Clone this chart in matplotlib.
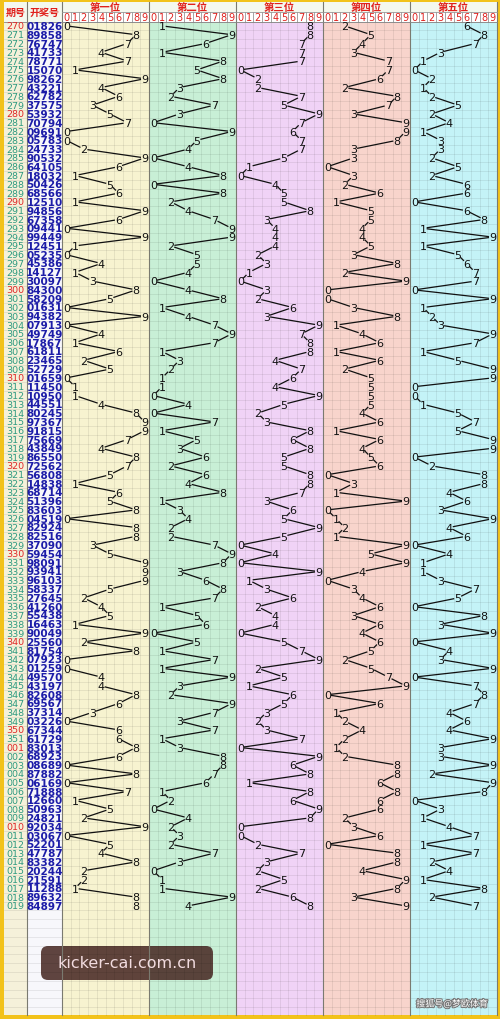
import matplotlib.pyplot as plt
from matplotlib.patches import Rectangle, FancyBboxPatch
import matplotlib.patheffects as pe

# issue numbers and draw results (5 digits each)
issues = [str(n) for n in range(270, 352)] + ["%03d" % n for n in range(1, 20)]
draws = [
    "01826", "89858", "76747", "41733", "78771", "15070", "98262", "43221", "62782", "37575",
    "53932", "70794", "09691", "05783", "24733", "90532", "64105", "18032", "50426", "68566",
    "12510", "94856", "67358", "09441", "99449", "12451", "05235", "45386", "14127", "30097",
    "84300", "58209", "01631", "94382", "07913", "49749", "17867", "61811", "23465", "52729",
    "01659", "11450", "10950", "44551", "80245", "97367", "91815", "75669", "43849", "86550",
    "72562", "56808", "14838", "68714", "51396", "83603", "04519", "82924", "82516", "37090",
    "59454", "98091", "93941", "96103", "58337", "27645", "41260", "55438", "16463", "90049",
    "25560", "81754", "07923", "01259", "49570", "43197", "82608", "69567", "37314", "03226",
    "67344", "61729",
    "83013", "68923", "08689", "87882", "06169", "71888", "12660", "50963", "24821", "92034",
    "03067", "52201", "47787", "83382", "20244", "21591", "11288", "89632", "84897",
]
red_issues = ["270", "280", "290", "300", "310", "320", "330", "340", "350", "001", "010"]
positions = ["第一位", "第二位", "第三位", "第四位", "第五位"]
digits = list(range(10))
pos_colors = ["#f7f3d0", "#c8efd6", "#f0d3f6", "#f8d4cc", "#c4f3f7"]

plt.rcParams['font.family'] = ['Noto Sans CJK SC', 'DejaVu Sans']

# canvas in pixel units
W, H = 500, 1020
fig = plt.figure(figsize=(5, 10.2), dpi=100)
fig.patch.set_facecolor("#f2c21a")
ax = fig.add_axes([0, 0, 1, 1])
ax.set_xlim(0, W)
ax.set_ylim(H, 0)
ax.axis("off")

top, mid, head = 3, 12.5, 22.5
row_h = 8.8
bottom = 1016
x_issue, x_draw, x_pos0, right = 4, 27, 62, 497
col_w = (right - x_pos0) / len(positions)
cell = col_w / 10
n = len(draws)

def row_y(i):
    return head + row_h * (i + 0.5)

# backgrounds
ax.add_patch(Rectangle((x_issue, top), right - x_issue, bottom - top, fc="#f4f8ee", ec="none"))
ax.add_patch(Rectangle((x_issue, head), x_draw - x_issue, bottom - head, fc="#f5f1da", ec="none"))
ax.add_patch(Rectangle((x_draw, head), x_pos0 - x_draw, bottom - head, fc="#f7f7fb", ec="none"))
for p, c in enumerate(pos_colors):
    x0 = x_pos0 + p * col_w
    ax.add_patch(Rectangle((x0, head), col_w, bottom - head, fc=c, ec="none"))

# grid
nrows_all = int((bottom - head) / row_h)
for k in range(nrows_all + 1):
    y = head + k * row_h
    ax.plot([x_issue, right], [y, y], color="k", alpha=0.1, lw=0.5)
for p in range(len(positions)):
    x0 = x_pos0 + p * col_w
    for d in range(1, 10):
        x = x0 + d * cell
        ax.plot([x, x], [head, bottom], color="k", alpha=0.1, lw=0.5)
        ax.plot([x, x], [mid, head], color="#999999", lw=0.5)
for x in [x_draw, x_pos0] + [x_pos0 + p * col_w for p in range(1, 6)]:
    ax.plot([x, x], [top, bottom], color="#7a7a70", lw=0.8)
ax.plot([x_pos0, right], [mid, mid], color="#999999", lw=0.5)
ax.plot([x_issue, right], [head, head], color="#888888", lw=0.6)

# header
hy = (top + head) / 2
ax.text((x_issue + x_draw) / 2, hy, "期号", color="#e0201c", fontsize=7.2, fontweight="bold",
        ha="center", va="center")
ax.text((x_draw + x_pos0) / 2, hy, "开奖号", color="#e0201c", fontsize=7.2, fontweight="bold",
        ha="center", va="center")
for p, name in enumerate(positions):
    x0 = x_pos0 + p * col_w
    ax.text(x0 + col_w / 2, (top + mid) / 2 + 0.5, name, color="#e0201c", fontsize=7.5,
            fontweight="bold", ha="center", va="center")
    for d in digits:
        ax.add_patch(Rectangle((x0 + d * cell, mid), cell, head - mid, fc="white",
                               ec="#aaaaaa", lw=0.4))
        ax.text(x0 + (d + 0.5) * cell, (mid + head) / 2 + 0.3, str(d), color="#e0201c",
                fontsize=7, ha="center", va="center", family="DejaVu Sans")

# issue and draw columns
for i, (iss, dr) in enumerate(zip(issues, draws)):
    y = row_y(i)
    ax.text((x_issue + x_draw) / 2, y, iss, color="#e02828" if iss in red_issues else "#2f9a80",
            fontsize=6.8, ha="center", va="center", family="DejaVu Sans")
    ax.text((x_draw + x_pos0) / 2, y, dr, color="#1c1ca8", fontsize=7.5, ha="center",
            va="center", family="DejaVu Sans", fontweight="bold")

# trend lines and digits
gap = 4.3
for p in range(len(positions)):
    x0 = x_pos0 + p * col_w
    xs = [x0 + (int(dr[p]) + 0.5) * cell for dr in draws]
    ys = [row_y(i) for i in range(n)]
    for i in range(1, n):
        dx, dy = xs[i] - xs[i - 1], ys[i] - ys[i - 1]
        dist = (dx ** 2 + dy ** 2) ** 0.5
        if dist <= 2 * gap + 0.5:
            continue
        ux, uy = dx / dist, dy / dist
        ax.plot([xs[i - 1] + ux * gap, xs[i] - ux * gap], [ys[i - 1] + uy * gap, ys[i] - uy * gap],
                color="#111111", lw=0.9)
    for i in range(n):
        ax.text(xs[i], ys[i] + 0.3, draws[i][p], color="#111111", fontsize=8, ha="center",
                va="center", family="DejaVu Sans")

# watermarks
ax.add_patch(FancyBboxPatch((44, 950), 166, 28, boxstyle="round,pad=3,rounding_size=7",
                            fc="#4a2b26", ec="none", alpha=0.88))
ax.text(127, 964, "kicker-cai.com.cn", color="#f2dce0", fontsize=11.5, ha="center",
        va="center", family="DejaVu Sans")
ax.text(452, 1005, "搜狐号@梦欧体育", color="white", fontsize=6.5, ha="center", va="center",
        path_effects=[pe.withStroke(linewidth=1.5, foreground="#777777")])

fig.savefig("out.png", dpi=100, facecolor=fig.get_facecolor())
